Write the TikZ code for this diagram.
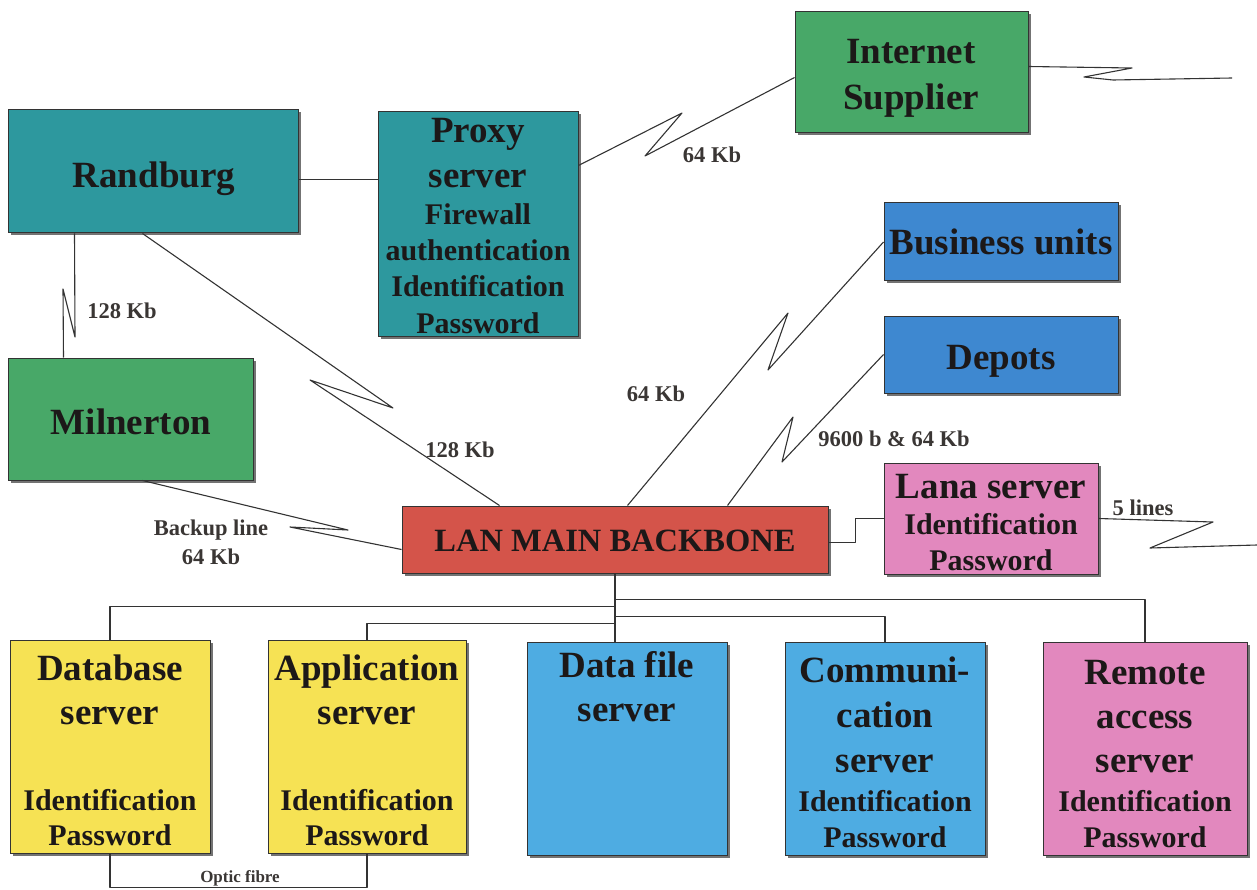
\documentclass[tikz,border=0pt]{standalone}
\usepackage{fontspec}
\setmainfont{Liberation Serif}
\usetikzlibrary{shadows}

\definecolor{teal}{RGB}{45,152,158}
\definecolor{leaf}{RGB}{72,168,104}
\definecolor{sky}{RGB}{62,136,208}
\definecolor{brick}{RGB}{212,84,74}
\definecolor{rose}{RGB}{226,136,190}
\definecolor{sun}{RGB}{246,226,84}
\definecolor{aqua}{RGB}{78,172,226}
\definecolor{ink}{RGB}{28,24,24}
\definecolor{lbl}{RGB}{58,54,52}

\tikzset{
  box/.style={draw=black!80, line width=1pt, inner sep=0pt, rectangle,
    drop shadow={shadow xshift=2.5pt, shadow yshift=-2.5pt, fill=black!55, opacity=1}},
  big/.style={font=\fontsize{37}{44}\selectfont\bfseries, text=ink, anchor=base, inner sep=0pt},
  mid/.style={font=\fontsize{30}{36}\selectfont\bfseries, text=ink, anchor=base, inner sep=0pt},
  lanfont/.style={font=\fontsize{32.5}{38}\selectfont\bfseries, text=ink, anchor=base, inner sep=0pt},
  lab/.style={font=\fontsize{22.5}{27}\selectfont\bfseries, text=lbl, anchor=base, inner sep=0pt},
  small/.style={font=\fontsize{17}{20}\selectfont\bfseries, text=lbl, anchor=base, inner sep=0pt},
  wire/.style={draw=black!80, line width=1.1pt, line join=round},
}

% #1 name, #2 colour, #3..#6 = x1,y1,x2,y2
\newcommand{\mkbox}[6]{%
  \node[box, fill=#2, minimum width={#5-#3}, minimum height={#6-#4}]
    (#1) at ({(#3+#5)/2},{(#4+#6)/2}) {};}

\begin{document}
\begin{tikzpicture}[x=1pt, y=-1pt]
\useasboundingbox (0,0) rectangle (1257,890);

% ---- boxes ----
\mkbox{rb}{teal}{8}{110}{298}{233}
\mkbox{px}{teal}{378}{112}{578}{336}
\mkbox{is}{leaf}{795}{12}{1028}{133}
\mkbox{bu}{sky}{884}{203}{1118}{281}
\mkbox{dp}{sky}{884}{316}{1118}{393}
\mkbox{ml}{leaf}{8}{358}{253}{480}
\mkbox{lan}{brick}{402}{506}{828}{573}
\mkbox{ln}{rose}{884}{463}{1098}{574}
\mkbox{db}{sun}{10}{640}{210}{853}
\mkbox{ap}{sun}{268}{640}{466}{853}
\mkbox{df}{aqua}{527}{642}{727}{855}
\mkbox{cm}{aqua}{785}{642}{985}{855}
\mkbox{ra}{rose}{1043}{642}{1247}{855}

% ---- box texts ----
\node[big] (rbt) at (154,188) {Randburg};

\node[big] (pxt1) at (478,143) {Proxy};
\node[big] (pxt2) at (478,188) {server};
\node[mid] (pxt3) at (478,225) {Firewall};
\node[mid] (pxt4) at (478,261) {authentication};
\node[mid] (pxt5) at (478,297) {Identification};
\node[mid] (pxt6) at (478,333) {Password};

\node[big] (ist1) at (911,64) {Internet};
\node[big] (ist2) at (911,110) {Supplier};

\node[big] (but) at (1001,255) {Business units};
\node[big] (dpt) at (1001,369) {Depots};
\node[big] (mlt) at (131,434) {Milnerton};

\node[lanfont] (lant) at (615,551) {LAN MAIN BACKBONE};

\node[big] (lnt1) at (991,498) {Lana server};
\node[mid] (lnt2) at (991,534) {Identification};
\node[mid] (lnt3) at (991,570) {Password};

\node[big] (dbt1) at (110,680) {Database};
\node[big] (dbt2) at (110,724) {server};
\node[mid] (dbt3) at (110,810) {Identification};
\node[mid] (dbt4) at (110,845) {Password};

\node[big] (apt1) at (367,680) {Application};
\node[big] (apt2) at (367,724) {server};
\node[mid] (apt3) at (367,810) {Identification};
\node[mid] (apt4) at (367,845) {Password};

\node[big] (dft1) at (627,677) {Data file};
\node[big] (dft2) at (627,721) {server};

\node[big] (cmt1) at (885,682) {Communi-};
\node[big] (cmt2) at (885,727) {cation};
\node[big] (cmt3) at (885,772) {server};
\node[mid] (cmt4) at (885,811) {Identification};
\node[mid] (cmt5) at (885,847) {Password};

\node[big] (rat1) at (1145,684) {Remote};
\node[big] (rat2) at (1145,728) {access};
\node[big] (rat3) at (1145,772) {server};
\node[mid] (rat4) at (1145,811) {Identification};
\node[mid] (rat5) at (1145,847) {Password};

% ---- links ----
\draw[wire] ([yshift=-8pt]rb.east) -- ([yshift=-8pt]rb.east -| px.west);

\draw[wire] ([yshift=-54pt]px.north east) -- (682,113) -- (645,156) -- ([yshift=-5pt]is.west);

\coordinate (inetEnd) at (1232,78);
\draw[wire] ([yshift=6pt]is.east) -- (1132,68) -- (1084,77) -- (1113,80) -- (inetEnd);

\draw[wire] ([xshift=67pt]rb.south west) -- (75,337) -- (63,289) -- ([xshift=56pt]ml.north west);

\draw[wire] ([xshift=135pt]rb.south west) -- (393,408) -- (310,380) -- ([xshift=98pt]lan.north west);

\draw[wire] ([xshift=135pt]ml.south west) -- (348,530) -- (290,527) -- ([yshift=-44pt]lan.north west);

\draw[wire] ([xshift=226pt]lan.north west) -- (788,313) -- (768,370) -- (bu.west);

\draw[wire] ([xshift=326pt]lan.north west) -- (793,417) -- (782,462) -- (dp.west);

\draw[wire] ([yshift=-3pt]lan.east) -- ++(27,0) |- (ln.west);

\coordinate (lanaEnd) at (1257,545);
\draw[wire] (ln.east) -- (1213,522) -- (1150,548) -- (lanaEnd);

% backbone tree
\draw[wire] (lan.south) -- (lan.south |- df.north);
\draw[wire] ([yshift=-26pt]lan.south) -| (ra.north);
\draw[wire] ([yshift=-33pt]lan.south) -| (db.north);
\draw[wire] ([yshift=-43pt]lan.south) -| (cm.north);
\draw[wire] ([yshift=-50pt]lan.south) -| (ap.north);

% optic fibre loop
\draw[wire] (db.south) -- ++(0,34) -| (ap.south);

% ---- link labels ----
\node[lab] (l1) at (712,163) {64 Kb};
\node[lab] (l2) at (122,319) {128 Kb};
\node[lab] (l3) at (460,457) {128 Kb};
\node[lab] (l4) at (656,401) {64 Kb};
\node[lab] (l5) at (894,446) {9600 b \& 64 Kb};
\node[lab] (l6) at (1143,515) {5 lines};
\node[lab] (l7) at (211,535) {Backup line};
\node[lab] (l8) at (211,564) {64 Kb};
\node[small] (l9) at (240,882) {Optic fibre};

\end{tikzpicture}
\end{document}
